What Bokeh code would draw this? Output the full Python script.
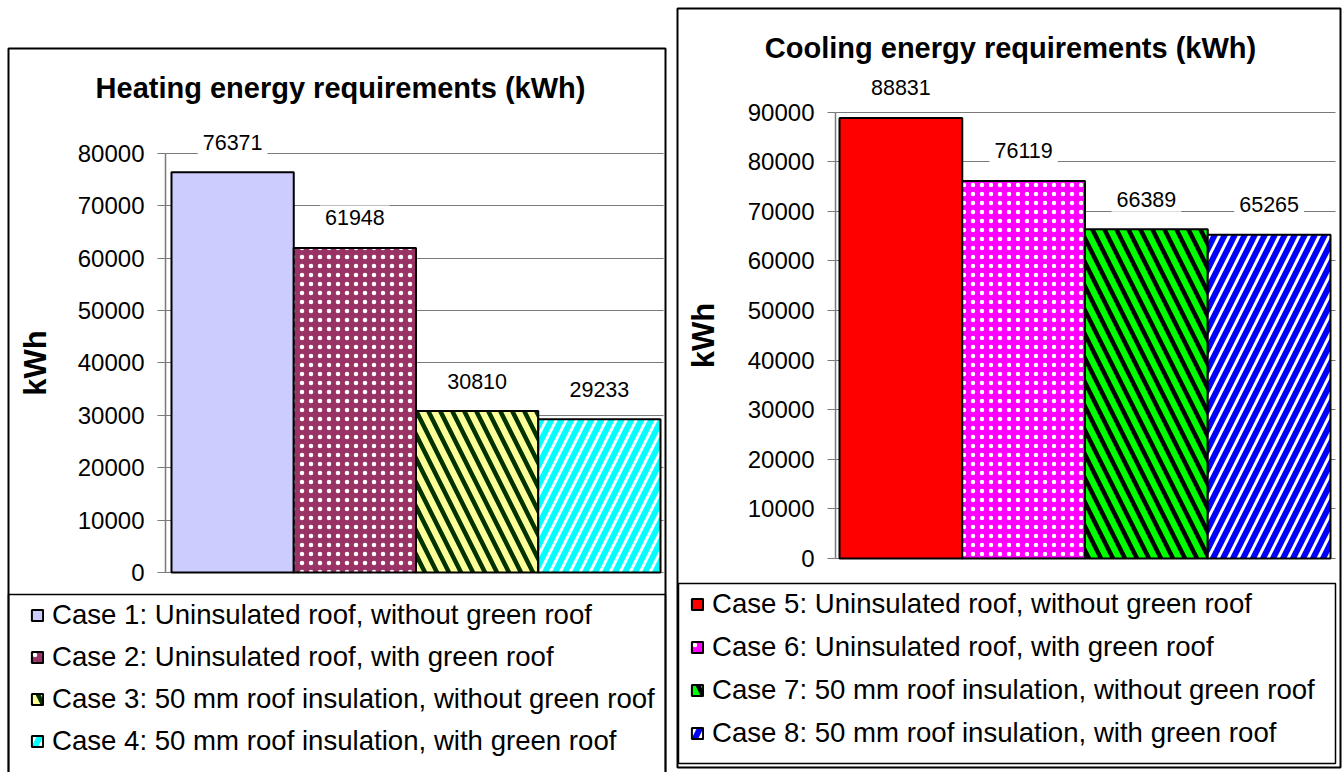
from bokeh.plotting import figure
from bokeh.models import (ColumnDataSource, Range1d, FixedTicker, BoxAnnotation, Label,
                          Legend, LegendItem, NumeralTickFormatter)
from bokeh.layouts import row
from bokeh.embed import file_html
from bokeh.resources import INLINE
from bokeh.core.properties import value

# ---------------- data ----------------
heating_title = "Heating energy requirements (kWh)"
heating_cases = [
    "Case 1: Uninsulated roof, without green roof",
    "Case 2: Uninsulated roof, with green roof",
    "Case 3: 50 mm roof insulation, without green roof",
    "Case 4: 50 mm roof insulation, with green roof",
]
heating_kwh = [76371, 61948, 30810, 29233]
heating_ticks = [0, 10000, 20000, 30000, 40000, 50000, 60000, 70000, 80000]

cooling_title = "Cooling energy requirements (kWh)"
cooling_cases = [
    "Case 5: Uninsulated roof, without green roof",
    "Case 6: Uninsulated roof, with green roof",
    "Case 7: 50 mm roof insulation, without green roof",
    "Case 8: 50 mm roof insulation, with green roof",
]
cooling_kwh = [88831, 76119, 66389, 65265]
cooling_ticks = [0, 10000, 20000, 30000, 40000, 50000, 60000, 70000, 80000, 90000]

y_axis_label = "kWh"

# ---------------- styles ----------------
FONT = "Liberation Sans"

heating_style = dict(
    fill=["#CCCCFF", "#993366", "#FFFF99", "#00FFFF"],
    hatch=["blank", "dot", "left_diagonal_line", "right_diagonal_line"],
    hcolor=["white", "white", "#003300", "white"],
    hscale=[10, 9, 24, 20],
    hweight=[1, 0.5, 4.5, 3],
)
cooling_style = dict(
    fill=["#FF0000", "#FF00FF", "#00FF00", "#0000FF"],
    hatch=["blank", "dot", "left_diagonal_line", "right_diagonal_line"],
    hcolor=["white", "white", "#000000", "white"],
    hscale=[10, 9, 24, 20],
    hweight=[1, 0.5, 4.5, 3],
)

# pixel geometry of each panel (canvas coordinates, y downward)
heating_geo = dict(
    width=671, height=772,
    axis_x=165, grid_right=663, zero=572, px_per_10k=52.4,
    bar_left=171, bar_right=660,
    box=(8, 665, 48, 1000), legend_box=(8, 665, 594, 1000),
    title_xy=(340, 87),
    legend_x=30, legend_top=607, legend_spacing=10,
    label_standoff=22,
)
cooling_geo = dict(
    width=672, height=772,
    axis_x=164, grid_right=664, zero=558, px_per_10k=49.6,
    bar_left=168, bar_right=659,
    box=(6, 669, 8, 767), legend_box=(7, 664, 583, 763),
    title_xy=(339, 47),
    legend_x=19, legend_top=596, legend_spacing=11,
    label_standoff=24,
)


def make_panel(title, cases, vals, ticks, style, geo):
    W, H = geo["width"], geo["height"]
    zero = geo["zero"]
    ppu = geo["px_per_10k"] / 10000.0
    n = len(vals)
    bl = geo["bar_left"]
    bw = (geo["bar_right"] - bl) / n

    def dx(px):
        return (px - bl) / bw

    def dy(py):
        return (zero - py) / ppu

    p = figure(width=W, height=H, output_backend="svg", toolbar_location=None,
               x_range=Range1d(dx(0), dx(W)), y_range=Range1d(dy(H), dy(0)),
               x_axis_location=None, min_border=0)
    p.title.visible = False
    p.outline_line_color = None
    p.background_fill_color = "white"
    p.border_fill_color = "white"
    p.xgrid.visible = False

    src = ColumnDataSource(dict(
        x=[i + 0.5 for i in range(n)],
        top=vals,
        label=[str(v) for v in vals],
        fill=style["fill"], hatch=style["hatch"], hcolor=style["hcolor"],
        hscale=style["hscale"], hweight=style["hweight"],
    ))

    bars = p.vbar(x="x", top="top", bottom=0, width=1.0, source=src,
                  fill_color="fill", line_color="black", line_width=2,
                  hatch_pattern="hatch", hatch_color="hcolor",
                  hatch_scale="hscale", hatch_weight="hweight")

    p.text(x="x", y="top", text="label", source=src,
           text_align="center", text_baseline="middle", y_offset=-30,
           text_font=value(FONT), text_font_size="21.5px", text_color="black",
           background_fill_color="white", padding=5)

    ax = p.yaxis[0]
    ax.fixed_location = dx(geo["axis_x"])
    ax.ticker = FixedTicker(ticks=ticks)
    ax.formatter = NumeralTickFormatter(format="0")
    ax.bounds = (0, max(ticks))
    ax.axis_line_color = "#7a7a7a"
    ax.axis_line_width = 1.5
    ax.major_tick_line_color = "#7a7a7a"
    ax.major_tick_out = 8
    ax.major_tick_in = 0
    ax.minor_tick_line_color = None
    ax.major_label_standoff = 13
    ax.major_label_text_font = FONT
    ax.major_label_text_font_size = "24px"
    ax.major_label_text_color = "black"
    ax.axis_label = y_axis_label
    ax.axis_label_text_font = FONT
    ax.axis_label_text_font_size = "31px"
    ax.axis_label_text_font_style = "bold"
    ax.axis_label_text_color = "black"
    ax.axis_label_standoff = geo["label_standoff"]

    g = p.ygrid[0]
    g.ticker = FixedTicker(ticks=ticks)
    g.grid_line_color = "#7a7a7a"
    g.grid_line_width = 1
    g.cross_bounds = (dx(geo["axis_x"]), dx(geo["grid_right"]))

    # panel border and legend box
    for (l, r, t, b), lw in ((geo["box"], 2), (geo["legend_box"], 1.5)):
        p.add_layout(BoxAnnotation(left=dx(l), right=dx(r), top=dy(t), bottom=dy(b),
                                   fill_color=None, fill_alpha=0,
                                   line_color="black", line_alpha=1.0,
                                   line_width=lw, level="overlay"))

    tx, ty = geo["title_xy"]
    p.add_layout(Label(x=dx(tx), y=dy(ty), text=title,
                       text_align="center", text_baseline="middle",
                       text_font=FONT, text_font_style="bold",
                       text_font_size="29px", text_color="black"))

    row_h = 30
    sp = geo["legend_spacing"]
    leg_h = n * row_h + (n - 1) * sp
    leg_bottom = geo["legend_top"] + leg_h
    legend = Legend(
        items=[LegendItem(label=cases[i], renderers=[bars], index=i) for i in range(n)],
        location=(geo["legend_x"], H - leg_bottom),
        orientation="vertical", padding=0, margin=0, spacing=sp,
        glyph_width=14, glyph_height=14, label_height=row_h, label_standoff=8,
        label_text_font=FONT, label_text_font_size="27.6px",
        label_text_color="black", border_line_color=None,
        background_fill_alpha=0, inactive_fill_alpha=0,
    )
    p.add_layout(legend)
    return p


left = make_panel(heating_title, heating_cases, heating_kwh, heating_ticks, heating_style, heating_geo)
right = make_panel(cooling_title, cooling_cases, cooling_kwh, cooling_ticks, cooling_style, cooling_geo)

layout = row(left, right, spacing=0)
open("out.html", "w").write(file_html(layout, INLINE))
